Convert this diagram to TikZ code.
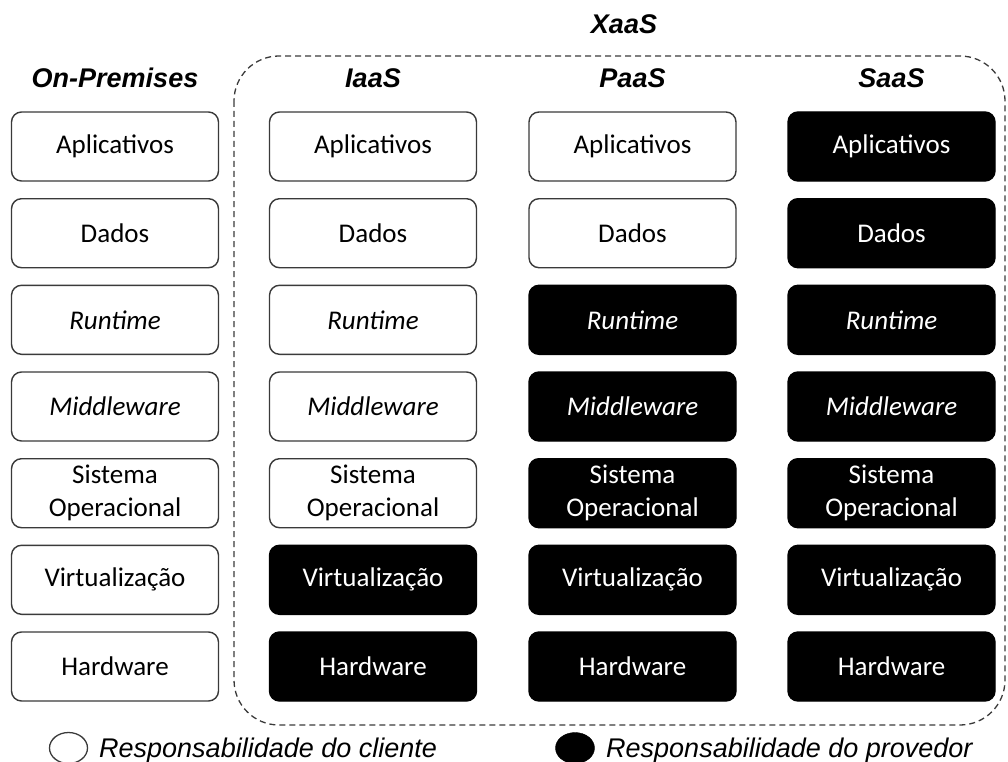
\documentclass[tikz,border=0pt]{standalone}
\usepackage{fontspec}
\usetikzlibrary{shapes.geometric}
\newfontfamily\boxfont{Carlito}
\newfontfamily\hdrfont{Liberation Sans}
\definecolor{edge}{HTML}{3A3A3A}

\tikzset{
  cell/.style={rounded corners=10pt, minimum width=207pt, minimum height=69pt,
    line width=1.4pt, align=center, inner sep=0pt,
    font=\boxfont\fontsize{27}{33}\selectfont},
  client/.style={cell, draw=edge, fill=white, text=black},
  provider/.style={cell, draw=black, fill=black, text=white},
  header/.style={font=\hdrfont\bfseries\itshape\fontsize{27}{32}\selectfont, inner sep=0pt},
  legendtext/.style={font=\hdrfont\itshape\fontsize{27}{32}\selectfont, inner sep=0pt, anchor=base west},
  frame/.style={draw=edge, line width=1.3pt, dash pattern=on 6pt off 4pt, rounded corners=45pt}
}

\begin{document}
\begin{tikzpicture}[x=1pt,y=-1pt]
\useasboundingbox (0,0) rectangle (1008,762);

% XaaS grouping frame
\draw[frame] (234,56) rectangle (1005,725);
\node[header] (xaas) at (624,24) {XaaS};

% column headers
\node[header] (hOn)   at (115,78)   {On-Premises};
\node[header] (hIaas) at (373,78)   {IaaS};
\node[header] (hPaas) at (632.5,78) {PaaS};
\node[header] (hSaas) at (891.5,78) {SaaS};

% On-Premises stack
\node[client] (on1) at (115,146.5) {Aplicativos};
\node[client] (on2) at (115,233.2) {Dados};
\node[client] (on3) at (115,319.8) {\itshape Runtime};
\node[client] (on4) at (115,406.5) {\itshape Middleware};
\node[client] (on5) at (115,493.2) {Sistema\\Operacional};
\node[client] (on6) at (115,579.8) {Virtualização};
\node[client] (on7) at (115,666.5) {Hardware};

% IaaS stack
\node[client]   (ia1) at (373,146.5) {Aplicativos};
\node[client]   (ia2) at (373,233.2) {Dados};
\node[client]   (ia3) at (373,319.8) {\itshape Runtime};
\node[client]   (ia4) at (373,406.5) {\itshape Middleware};
\node[client]   (ia5) at (373,493.2) {Sistema\\Operacional};
\node[provider] (ia6) at (373,579.8) {Virtualização};
\node[provider] (ia7) at (373,666.5) {Hardware};

% PaaS stack
\node[client]   (pa1) at (632.5,146.5) {Aplicativos};
\node[client]   (pa2) at (632.5,233.2) {Dados};
\node[provider] (pa3) at (632.5,319.8) {\itshape Runtime};
\node[provider] (pa4) at (632.5,406.5) {\itshape Middleware};
\node[provider] (pa5) at (632.5,493.2) {Sistema\\Operacional};
\node[provider] (pa6) at (632.5,579.8) {Virtualização};
\node[provider] (pa7) at (632.5,666.5) {Hardware};

% SaaS stack
\node[provider] (sa1) at (891.5,146.5) {Aplicativos};
\node[provider] (sa2) at (891.5,233.2) {Dados};
\node[provider] (sa3) at (891.5,319.8) {\itshape Runtime};
\node[provider] (sa4) at (891.5,406.5) {\itshape Middleware};
\node[provider] (sa5) at (891.5,493.2) {Sistema\\Operacional};
\node[provider] (sa6) at (891.5,579.8) {Virtualização};
\node[provider] (sa7) at (891.5,666.5) {Hardware};

% legend
\node[ellipse, draw=edge, line width=1.3pt, fill=white, minimum width=38pt, minimum height=31pt, inner sep=0pt] (legC) at (68.5,748) {};
\node[legendtext] (legCt) at (99,757) {Responsabilidade do cliente};
\node[ellipse, draw=black, fill=black, minimum width=39pt, minimum height=31pt, inner sep=0pt] (legP) at (575,748) {};
\node[legendtext] (legPt) at (606,757) {Responsabilidade do provedor};
\end{tikzpicture}
\end{document}
